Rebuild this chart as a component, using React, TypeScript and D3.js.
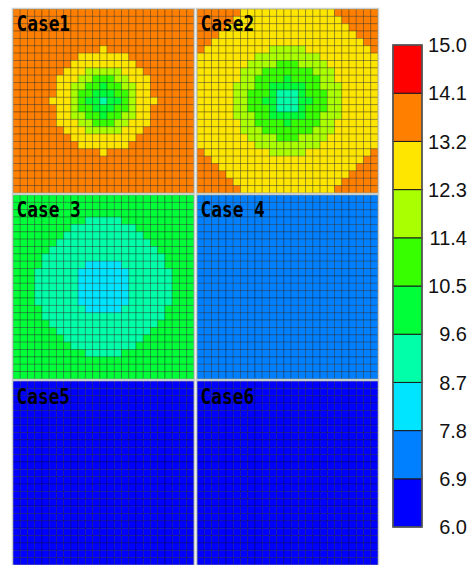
import React, { useRef, useEffect } from 'react';
import * as d3 from 'd3';

// level boundaries of the colour bar and their colours
const levelBreaks = [6.0, 6.9, 7.8, 8.7, 9.6, 10.5, 11.4, 12.3, 13.2, 14.1, 15.0];
const levelColors = ['#0000ff', '#0080ff', '#00e5ff', '#00ffa8', '#00ff38', '#38ff00', '#aaff00', '#ffe600', '#ff8000', '#ff0000'];
const tickLabels = ['6.0', '6.9', '7.8', '8.7', '9.6', '10.5', '11.4', '12.3', '13.2', '14.1', '15.0'];

const caseNames = ['Case1', 'Case2', 'Case 3', 'Case 4', 'Case5', 'Case6'];

// each digit = colour level index of one cell (0 = 6.0-6.9 ... 9 = 14.1-15.0)
const case1Rows = [
  '8888888888888888888888888',
  '8888888888888888888888888',
  '8888888888888888888888888',
  '8888888888888888888888888',
  '8888888888888888888888888',
  '8888888888887888888888888',
  '8888888887777777888888888',
  '8888888877777777788888888',
  '8888888777666667778888888',
  '8888887776655566777888888',
  '8888887766554556677888888',
  '8888887765544455677888888',
  '8888877765443445677788888',
  '8888887765544455677888888',
  '8888887766554556677888888',
  '8888887776655566777888888',
  '8888888777666667778888888',
  '8888888877777777788888888',
  '8888888887777777888888888',
  '8888888888887888888888888',
  '8888888888888888888888888',
  '8888888888888888888888888',
  '8888888888888888888888888',
  '8888888888888888888888888',
  '8888888888888888888888888',
];

const case2Rows = [
  '8888887777777777777888888',
  '8888877777777777777788888',
  '8888777777777777777778888',
  '8887777777777777777777888',
  '8877777777777777777777788',
  '8777777777666667777777778',
  '7777777766666666677777777',
  '7777777666655566667777777',
  '7777776665555555666777777',
  '7777776655554555566777777',
  '7777766655444445566677777',
  '7777766555433345556677777',
  '7777766554433344556677777',
  '7777766555433345556677777',
  '7777766655444445566677777',
  '7777776655554555566777777',
  '7777776665555555666777777',
  '7777777666655566667777777',
  '7777777766666666677777777',
  '8777777777666667777777778',
  '8877777777777777777777788',
  '8887777777777777777777888',
  '8888777777777777777778888',
  '8888877777777777777788888',
  '8888887777777777777888888',
];

const case3Rows = [
  '4444444444444444444444444',
  '4444444444444444444444444',
  '4444444444444444444444444',
  '4444444444333334444444444',
  '4444444433333333344444444',
  '4444444333333333334444444',
  '4444443333333333333444444',
  '4444433333333333333344444',
  '4444333333333333333334444',
  '4444333333222223333334444',
  '4443333332222222333333444',
  '4443333332222222333333444',
  '4443333332222222333333444',
  '4443333332222222333333444',
  '4443333332222222333333444',
  '4444333333222223333334444',
  '4444333333333333333334444',
  '4444433333333333333344444',
  '4444443333333333333444444',
  '4444444333333333334444444',
  '4444444433333333344444444',
  '4444444444333334444444444',
  '4444444444444444444444444',
  '4444444444444444444444444',
  '4444444444444444444444444',
];

// the last three cases are one flat level each
const case4Level = 1;
const case5Level = 0;
const case6Level = 0;

const gridSize = 25;

const flatRows = (lvl: number) => d3.range(gridSize).map(() => String(lvl).repeat(gridSize));

const App: React.FC = () => {
  const ref = useRef<SVGSVGElement | null>(null);

  useEffect(() => {
    if (!ref.current) return;
    const svg = d3.select(ref.current);
    svg.selectAll('*').remove();

    const panels = [case1Rows, case2Rows, case3Rows, flatRows(case4Level), flatRows(case5Level), flatRows(case6Level)];

    const color = d3.scaleThreshold<number, string>()
      .domain(levelBreaks.slice(1, -1))
      .range(levelColors);

    // panel layout: 2 columns, 3 rows
    const panelX = d3.scaleBand<number>().domain([0, 1]).range([13, 378]).paddingInner(0.017);
    const panelY = d3.scaleBand<number>().domain([0, 1, 2]).range([9, 565]).paddingInner(0.011);

    const cellX = d3.scaleBand<number>().domain(d3.range(gridSize)).range([0, panelX.bandwidth()]);
    const cellY = d3.scaleBand<number>().domain(d3.range(gridSize)).range([0, panelY.bandwidth()]);

    panels.forEach((rows, p) => {
      const g = svg.append('g')
        .attr('transform', `translate(${panelX(p % 2)},${panelY(Math.floor(p / 2))})`);

      const cells = rows.flatMap((row, r) =>
        row.split('').map((ch, c) => ({ r, c, v: levelBreaks[+ch] + 0.45 })));

      g.selectAll('rect.cell')
        .data(cells)
        .enter()
        .append('rect')
        .attr('class', 'cell')
        .attr('x', (d) => cellX(d.c) || 0)
        .attr('y', (d) => cellY(d.r) || 0)
        .attr('width', cellX.bandwidth())
        .attr('height', cellY.bandwidth())
        .attr('fill', (d) => color(d.v))
        .attr('stroke', 'rgba(0,0,0,0.32)')
        .attr('stroke-width', 0.9);

      g.append('rect')
        .attr('x', -0.5)
        .attr('y', -0.5)
        .attr('width', panelX.bandwidth() + 1)
        .attr('height', panelY.bandwidth() + 1)
        .attr('fill', 'none')
        .attr('stroke', '#c9cfc9')
        .attr('stroke-width', 1.5);

      g.append('text')
        .attr('transform', `translate(3.5,${p >= 4 ? 23 : 22}) scale(1,1.15)`)
        .attr('font-family', '"DejaVu Sans Mono", monospace')
        .attr('font-weight', 'bold')
        .attr('font-size', 17.8)
        .attr('fill', '#000')
        .text(caseNames[p]);
    });

    // colour bar
    const cbY = d3.scaleLinear().domain([6, 15]).range([527, 45]);
    const cbX = 393;
    const cbW = 29;
    const segs = d3.pairs(levelBreaks);

    const cb = svg.append('g');
    cb.selectAll('rect.seg')
      .data(segs)
      .enter()
      .append('rect')
      .attr('class', 'seg')
      .attr('x', cbX)
      .attr('y', (d) => cbY(d[1]))
      .attr('width', cbW)
      .attr('height', (d) => cbY(d[0]) - cbY(d[1]))
      .attr('fill', (d) => color((d[0] + d[1]) / 2))
      .attr('stroke', '#1a1a1a')
      .attr('stroke-width', 1);

    cb.append('rect')
      .attr('x', cbX)
      .attr('y', cbY(15))
      .attr('width', cbW)
      .attr('height', cbY(6) - cbY(15))
      .attr('fill', 'none')
      .attr('stroke', '#5a5a5a')
      .attr('stroke-width', 1.5);

    cb.selectAll('text.tick')
      .data(levelBreaks)
      .enter()
      .append('text')
      .attr('class', 'tick')
      .attr('x', 467)
      .attr('y', (d) => cbY(d))
      .attr('dy', '0.36em')
      .attr('text-anchor', 'end')
      .attr('font-family', '"Liberation Sans", Arial, sans-serif')
      .attr('font-size', 20)
      .attr('fill', '#111')
      .text((_, i) => tickLabels[i]);
  }, []);

  return (
    <svg
      ref={ref}
      width={475}
      height={565}
      style={{ position: 'absolute', left: 0, top: 0, background: '#fff' }}
    />
  );
};

export default App;
